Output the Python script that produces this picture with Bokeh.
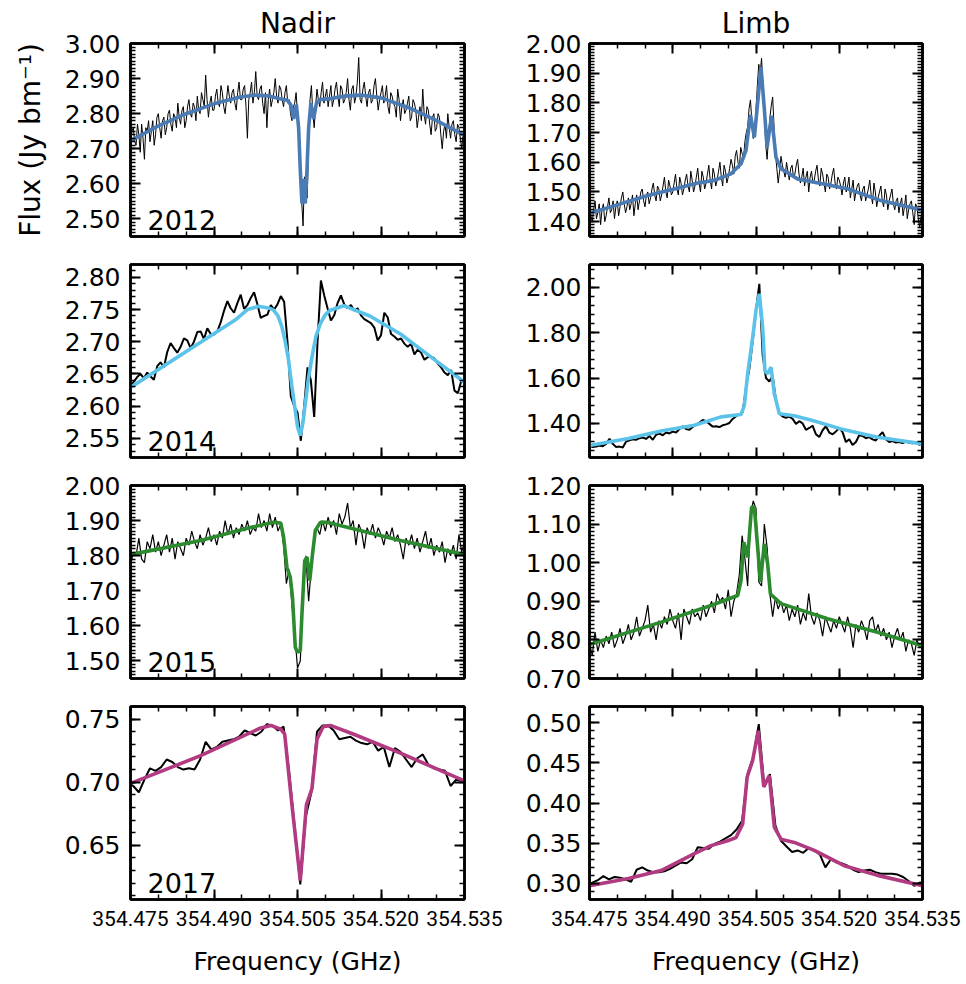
import numpy as np
from bokeh.plotting import figure
from bokeh.models import Range1d, FixedTicker, LinearAxis, PrintfTickFormatter, Label
from bokeh.layouts import column, row
from bokeh.embed import file_html
from bokeh.resources import INLINE

# ---------------- data ----------------
freq_min, freq_max = 354.475, 354.535
freq_ticks = [354.475, 354.490, 354.505, 354.520, 354.535]
years = ["2012", "2014", "2015", "2017"]
column_titles = ["Nadir", "Limb"]
year_colors = ["#4a7bb5", "#5bc3ea", "#2b8b2e", "#b23a80"]

# sampling of the observed spectra (start frequency, channel width in GHz)
data_start = [354.475, 354.475, 354.475, 354.4745]
data_step = [0.00025, 0.0006, 0.0005, 0.001]

nadir_2012_flux = [
    2.70, 2.75, 2.76, 2.72, 2.71, 2.77, 2.74, 2.69, 2.77, 2.73,
    2.67, 2.76, 2.75, 2.78, 2.72, 2.75, 2.78, 2.71, 2.74, 2.79,
    2.80, 2.76, 2.73, 2.78, 2.79, 2.74, 2.76, 2.80, 2.81, 2.77,
    2.75, 2.80, 2.79, 2.76, 2.83, 2.79, 2.77, 2.81, 2.82, 2.76,
    2.78, 2.82, 2.84, 2.80, 2.79, 2.83, 2.82, 2.78, 2.85, 2.81,
    2.80, 2.86, 2.84, 2.82, 2.91, 2.84, 2.79, 2.83, 2.85, 2.81,
    2.81, 2.85, 2.87, 2.83, 2.82, 2.88, 2.86, 2.82, 2.80, 2.84,
    2.88, 2.85, 2.83, 2.86, 2.87, 2.83, 2.81, 2.86, 2.89, 2.84,
    2.84, 2.87, 2.88, 2.82, 2.73, 2.84, 2.86, 2.89, 2.83, 2.86,
    2.92, 2.85, 2.84, 2.87, 2.88, 2.83, 2.80, 2.86, 2.76, 2.84,
    2.87, 2.82, 2.84, 2.86, 2.90, 2.85, 2.83, 2.88, 2.87, 2.84,
    2.82, 2.86, 2.88, 2.83, 2.84, 2.80, 2.78, 2.82, 2.83, 2.86,
    2.80, 2.74, 2.62, 2.55, 2.48, 2.62, 2.58, 2.56, 2.72, 2.84,
    2.88, 2.80, 2.76, 2.82, 2.87, 2.84, 2.82, 2.86, 2.89, 2.83,
    2.85, 2.87, 2.82, 2.85, 2.88, 2.82, 2.84, 2.87, 2.89, 2.85,
    2.82, 2.88, 2.87, 2.83, 2.84, 2.86, 2.90, 2.84, 2.81, 2.87,
    2.88, 2.83, 2.85, 2.89, 2.96, 2.84, 2.83, 2.87, 2.89, 2.85,
    2.82, 2.86, 2.87, 2.83, 2.84, 2.88, 2.90, 2.85, 2.81, 2.84,
    2.86, 2.88, 2.83, 2.85, 2.88, 2.82, 2.80, 2.86, 2.85, 2.83,
    2.82, 2.79, 2.87, 2.84, 2.78, 2.82, 2.84, 2.80, 2.81, 2.83,
    2.85, 2.78, 2.79, 2.84, 2.83, 2.81, 2.76, 2.79, 2.82, 2.78,
    2.87, 2.80, 2.77, 2.82, 2.81, 2.77, 2.74, 2.79, 2.80, 2.75,
    2.76, 2.80, 2.79, 2.74, 2.70, 2.75, 2.77, 2.73, 2.80, 2.76,
    2.73, 2.77, 2.78, 2.74, 2.72, 2.77, 2.76, 2.73, 2.70, 2.74,
    2.75]
limb_2012_flux = [
    1.45, 1.42, 1.40, 1.44, 1.47, 1.41, 1.43, 1.46, 1.39, 1.44,
    1.46, 1.40, 1.42, 1.45, 1.48, 1.43, 1.44, 1.47, 1.41, 1.45,
    1.47, 1.42, 1.45, 1.48, 1.50, 1.46, 1.43, 1.45, 1.48, 1.44,
    1.46, 1.49, 1.42, 1.46, 1.49, 1.44, 1.47, 1.50, 1.51, 1.47,
    1.45, 1.49, 1.50, 1.46, 1.48, 1.51, 1.53, 1.49, 1.47, 1.52,
    1.51, 1.47, 1.49, 1.52, 1.55, 1.50, 1.48, 1.54, 1.52, 1.49,
    1.50, 1.53, 1.56, 1.51, 1.49, 1.55, 1.53, 1.49, 1.51, 1.54,
    1.56, 1.52, 1.50, 1.57, 1.54, 1.50, 1.52, 1.55, 1.58, 1.53,
    1.50, 1.57, 1.55, 1.51, 1.53, 1.56, 1.59, 1.54, 1.51, 1.58,
    1.56, 1.52, 1.54, 1.57, 1.60, 1.55, 1.52, 1.59, 1.57, 1.53,
    1.55, 1.58, 1.61, 1.59, 1.56, 1.62, 1.64, 1.60, 1.58, 1.65,
    1.63, 1.61, 1.67, 1.70, 1.72, 1.78, 1.81, 1.74, 1.68, 1.70,
    1.78, 1.86, 1.93, 1.90, 1.95, 1.86, 1.76, 1.66, 1.61, 1.68,
    1.75, 1.79, 1.82, 1.72, 1.63, 1.58, 1.53, 1.57, 1.62, 1.59,
    1.57, 1.55, 1.60, 1.57, 1.54, 1.58, 1.59, 1.55, 1.56, 1.59,
    1.61, 1.56, 1.53, 1.55, 1.58, 1.52, 1.55, 1.57, 1.50, 1.55,
    1.57, 1.53, 1.54, 1.57, 1.59, 1.54, 1.52, 1.58, 1.56, 1.53,
    1.50, 1.56, 1.55, 1.51, 1.53, 1.56, 1.58, 1.53, 1.51, 1.55,
    1.54, 1.52, 1.49, 1.53, 1.55, 1.50, 1.52, 1.55, 1.48, 1.51,
    1.54, 1.47, 1.50, 1.52, 1.53, 1.49, 1.47, 1.51, 1.52, 1.47,
    1.49, 1.51, 1.54, 1.49, 1.46, 1.53, 1.50, 1.45, 1.48, 1.50,
    1.52, 1.47, 1.45, 1.51, 1.49, 1.44, 1.47, 1.49, 1.51, 1.46,
    1.44, 1.47, 1.48, 1.43, 1.46, 1.48, 1.42, 1.45, 1.49, 1.41,
    1.44, 1.46, 1.47, 1.43, 1.39, 1.46, 1.45, 1.41, 1.38, 1.42,
    1.44]
nadir_2014_flux = [
    2.630, 2.638, 2.645, 2.650, 2.643, 2.652, 2.646, 2.641, 2.662, 2.668,
    2.660, 2.684, 2.698, 2.690, 2.683, 2.692, 2.705, 2.702, 2.690, 2.700,
    2.715, 2.716, 2.704, 2.721, 2.712, 2.711, 2.716, 2.730, 2.748, 2.763,
    2.752, 2.745, 2.760, 2.773, 2.751, 2.757, 2.768, 2.777, 2.758, 2.737,
    2.740, 2.742, 2.757, 2.750, 2.758, 2.771, 2.762, 2.700, 2.615, 2.600,
    2.590, 2.546, 2.600, 2.660, 2.640, 2.583, 2.700, 2.795, 2.772, 2.752,
    2.733, 2.741, 2.760, 2.772, 2.758, 2.752, 2.757, 2.748, 2.752, 2.741,
    2.735, 2.732, 2.729, 2.722, 2.702, 2.710, 2.745, 2.738, 2.712, 2.708,
    2.703, 2.705, 2.697, 2.692, 2.697, 2.680, 2.688, 2.683, 2.672, 2.676,
    2.677, 2.674, 2.666, 2.660, 2.652, 2.648, 2.656, 2.624, 2.620, 2.638,
    2.640]
limb_2014_flux = [
    1.300, 1.296, 1.298, 1.303, 1.300, 1.310, 1.332, 1.310, 1.296, 1.298,
    1.294, 1.320, 1.326, 1.330, 1.328, 1.335, 1.338, 1.332, 1.345, 1.328,
    1.350, 1.355, 1.348, 1.360, 1.356, 1.364, 1.360, 1.375, 1.388, 1.375,
    1.372, 1.384, 1.395, 1.404, 1.415, 1.410, 1.398, 1.386, 1.388, 1.384,
    1.392, 1.396, 1.402, 1.420, 1.432, 1.440, 1.450, 1.560, 1.640, 1.760,
    1.900, 2.015, 1.700, 1.600, 1.585, 1.610, 1.500, 1.445, 1.430, 1.425,
    1.430, 1.420, 1.398, 1.410, 1.400, 1.372, 1.380, 1.390, 1.352, 1.340,
    1.370, 1.388, 1.360, 1.352, 1.365, 1.380, 1.362, 1.318, 1.330, 1.305,
    1.318, 1.348, 1.345, 1.335, 1.340, 1.330, 1.325, 1.345, 1.362, 1.330,
    1.318, 1.322, 1.316, 1.318, 1.314, 1.320, 1.315, 1.313, 1.318, 1.306,
    1.310]
nadir_2015_flux = [
    1.77, 1.81, 1.80, 1.85, 1.79, 1.78, 1.84, 1.82, 1.86, 1.81,
    1.84, 1.80, 1.83, 1.86, 1.81, 1.85, 1.79, 1.84, 1.82, 1.80,
    1.85, 1.83, 1.87, 1.84, 1.82, 1.86, 1.83, 1.85, 1.88, 1.84,
    1.86, 1.83, 1.87, 1.85, 1.90, 1.86, 1.89, 1.85, 1.88, 1.86,
    1.89, 1.87, 1.90, 1.86, 1.88, 1.87, 1.92, 1.88, 1.90, 1.87,
    1.92, 1.88, 1.91, 1.87, 1.89, 1.83, 1.72, 1.76, 1.66, 1.58,
    1.48, 1.50, 1.68, 1.80, 1.67, 1.77, 1.86, 1.88, 1.86, 1.90,
    1.87, 1.91, 1.88, 1.90, 1.86, 1.92, 1.89, 1.91, 1.95, 1.88,
    1.90, 1.83, 1.89, 1.87, 1.82, 1.88, 1.86, 1.89, 1.85, 1.88,
    1.86, 1.83, 1.87, 1.85, 1.88, 1.84, 1.86, 1.83, 1.79, 1.85,
    1.83, 1.86, 1.82, 1.85, 1.81, 1.84, 1.87, 1.82, 1.85, 1.80,
    1.83, 1.81, 1.84, 1.78, 1.82, 1.80, 1.83, 1.79, 1.86, 1.81,
    1.84]
limb_2015_flux = [
    0.79, 0.76, 0.82, 0.77, 0.80, 0.78, 0.81, 0.79, 0.82, 0.78,
    0.80, 0.83, 0.79, 0.81, 0.84, 0.80, 0.82, 0.86, 0.81, 0.83,
    0.85, 0.89, 0.82, 0.84, 0.80, 0.85, 0.83, 0.86, 0.84, 0.88,
    0.85, 0.83, 0.87, 0.80, 0.88, 0.86, 0.84, 0.88, 0.86, 0.87,
    0.85, 0.89, 0.86, 0.88, 0.90, 0.87, 0.92, 0.90, 0.91, 0.88,
    0.93, 0.86, 0.90, 0.92, 0.97, 1.07, 1.01, 0.94, 1.12, 1.16,
    1.14, 0.95, 0.94, 1.10, 1.04, 0.92, 0.86, 0.91, 0.88, 0.90,
    0.87, 0.89, 0.85, 0.88, 0.86, 0.89, 0.84, 0.87, 0.85, 0.92,
    0.86, 0.84, 0.87, 0.85, 0.81, 0.86, 0.84, 0.82, 0.85, 0.83,
    0.86, 0.84, 0.82, 0.86, 0.83, 0.78, 0.84, 0.82, 0.85, 0.83,
    0.80, 0.85, 0.86, 0.82, 0.84, 0.81, 0.83, 0.80, 0.82, 0.78,
    0.81, 0.83, 0.80, 0.82, 0.77, 0.80, 0.79, 0.76, 0.80, 0.78,
    0.80]
nadir_2017_flux = [
    0.700, 0.697, 0.692, 0.702, 0.711, 0.709, 0.712, 0.718, 0.716, 0.712,
    0.710, 0.711, 0.710, 0.718, 0.732, 0.726, 0.728, 0.732, 0.733, 0.734,
    0.736, 0.741, 0.739, 0.737, 0.740, 0.746, 0.745, 0.741, 0.744, 0.708,
    0.664, 0.619, 0.673, 0.692, 0.740, 0.745, 0.745, 0.741, 0.734, 0.735,
    0.736, 0.733, 0.731, 0.730, 0.732, 0.725, 0.728, 0.712, 0.727, 0.724,
    0.718, 0.712, 0.719, 0.722, 0.714, 0.711, 0.710, 0.709, 0.697, 0.702,
    0.701, 0.700]
limb_2017_flux = [
    0.299, 0.301, 0.304, 0.309, 0.305, 0.308, 0.307, 0.305, 0.302, 0.317,
    0.320, 0.316, 0.314, 0.314, 0.315, 0.318, 0.322, 0.326, 0.325, 0.330,
    0.345, 0.344, 0.343, 0.349, 0.352, 0.356, 0.360, 0.367, 0.378, 0.437,
    0.457, 0.498, 0.420, 0.436, 0.372, 0.353, 0.346, 0.339, 0.341, 0.338,
    0.344, 0.341, 0.336, 0.320, 0.330, 0.326, 0.325, 0.322, 0.317, 0.314,
    0.316, 0.317, 0.314, 0.312, 0.312, 0.312, 0.311, 0.308, 0.303, 0.297,
    0.301, 0.300]

# best-fit model spectra (frequency, flux)
nadir_2012_model_freq = [354.4750, 354.4800, 354.4850, 354.4900, 354.4945, 354.4975, 354.5000,
                         354.5020, 354.5032, 354.5038, 354.5043, 354.5048, 354.5052, 354.5055,
                         354.5058, 354.5061, 354.5064, 354.5067, 354.5070, 354.5074, 354.5079,
                         354.5084, 354.5090, 354.5110, 354.5135, 354.5163, 354.5200, 354.5250,
                         354.5300, 354.5350]
nadir_2012_model_flux = [2.723, 2.765, 2.800, 2.828, 2.847, 2.853, 2.850,
                         2.842, 2.838, 2.825, 2.785, 2.826, 2.760, 2.640,
                         2.544, 2.614, 2.544, 2.640, 2.760, 2.830, 2.785,
                         2.830, 2.840, 2.843, 2.850, 2.853, 2.845, 2.817,
                         2.780, 2.738]
limb_2012_model_freq = [354.4750, 354.4795, 354.4855, 354.4915, 354.4945, 354.4975, 354.5005,
                        354.5023, 354.5032, 354.5036, 354.5040, 354.5047, 354.5053, 354.5059,
                        354.5065, 354.5070, 354.5078, 354.5086, 354.5095, 354.5125, 354.5155,
                        354.5215, 354.5275, 354.5350]
limb_2012_model_flux = [1.428, 1.454, 1.488, 1.516, 1.530, 1.539, 1.561,
                        1.595, 1.640, 1.700, 1.760, 1.684, 1.800, 1.920,
                        1.780, 1.651, 1.757, 1.617, 1.578, 1.544, 1.533,
                        1.511, 1.471, 1.438]
nadir_2014_model_freq = [354.4750, 354.4876, 354.4940, 354.4960, 354.4980, 354.5000, 354.5007,
                         354.5015, 354.5022, 354.5028, 354.5034, 354.5040, 354.5046, 354.5050,
                         354.5055, 354.5060, 354.5064, 354.5070, 354.5076, 354.5083, 354.5091,
                         354.5100, 354.5109, 354.5133, 354.5180, 354.5235, 354.5290, 354.5350]
nadir_2014_model_flux = [2.629, 2.699, 2.735, 2.750, 2.755, 2.752, 2.749,
                         2.740, 2.723, 2.700, 2.671, 2.630, 2.593, 2.568,
                         2.554, 2.575, 2.604, 2.645, 2.676, 2.708, 2.728,
                         2.742, 2.749, 2.756, 2.740, 2.712, 2.676, 2.637]
limb_2014_model_freq = [354.4750, 354.4820, 354.4879, 354.4939, 354.4987, 354.5023, 354.5029,
                        354.5035, 354.5044, 354.5050, 354.5056, 354.5062, 354.5066, 354.5071,
                        354.5077, 354.5083, 354.5092, 354.5119, 354.5155, 354.5203, 354.5269,
                        354.5350]
limb_2014_model_flux = [1.303, 1.334, 1.367, 1.392, 1.429, 1.439, 1.480,
                        1.619, 1.780, 1.898, 1.971, 1.824, 1.633, 1.619,
                        1.648, 1.531, 1.443, 1.434, 1.411, 1.376, 1.339,
                        1.310]
nadir_2015_model_freq = [354.4750, 354.4876, 354.4965, 354.5007, 354.5020, 354.5025, 354.5031,
                         354.5037, 354.5041, 354.5046, 354.5050, 354.5055, 354.5058, 354.5063,
                         354.5067, 354.5072, 354.5077, 354.5082, 354.5091, 354.5103, 354.5235,
                         354.5350]
nadir_2015_model_flux = [1.803, 1.843, 1.880, 1.895, 1.893, 1.853, 1.767,
                         1.739, 1.682, 1.539, 1.525, 1.530, 1.634, 1.786,
                         1.796, 1.729, 1.805, 1.872, 1.895, 1.895, 1.843,
                         1.803]
limb_2015_model_freq = [354.4750, 354.4879, 354.4969, 354.5017, 354.5023, 354.5028, 354.5035,
                        354.5042, 354.5047, 354.5053, 354.5058, 354.5065, 354.5071, 354.5076,
                        354.5095, 354.5179, 354.5269, 354.5350]
limb_2015_model_flux = [0.788, 0.846, 0.889, 0.915, 0.954, 1.053, 1.014,
                        1.144, 1.144, 1.040, 0.950, 1.049, 0.997, 0.919,
                        0.894, 0.855, 0.820, 0.785]
nadir_2017_model_freq = [354.4750, 354.4876, 354.4984, 354.5002, 354.5020, 354.5027, 354.5040,
                         354.5055, 354.5066, 354.5076, 354.5085, 354.5096, 354.5109, 354.5151,
                         354.5235, 354.5350]
nadir_2017_model_flux = [0.699, 0.721, 0.743, 0.745, 0.742, 0.738, 0.682,
                         0.622, 0.682, 0.695, 0.734, 0.744, 0.745, 0.738,
                         0.723, 0.701]
limb_2017_model_freq = [354.4750, 354.4820, 354.4879, 354.4939, 354.4969, 354.4999, 354.5014,
                        354.5026, 354.5034, 354.5044, 354.5054, 354.5064, 354.5074, 354.5083,
                        354.5095, 354.5119, 354.5155, 354.5209, 354.5269, 354.5350]
limb_2017_model_flux = [0.297, 0.306, 0.316, 0.337, 0.347, 0.353, 0.357,
                        0.374, 0.432, 0.453, 0.490, 0.420, 0.434, 0.370,
                        0.355, 0.351, 0.341, 0.322, 0.310, 0.297]

nadir_flux = [nadir_2012_flux, nadir_2014_flux, nadir_2015_flux, nadir_2017_flux]
limb_flux = [limb_2012_flux, limb_2014_flux, limb_2015_flux, limb_2017_flux]
nadir_model = [(nadir_2012_model_freq, nadir_2012_model_flux), (nadir_2014_model_freq, nadir_2014_model_flux),
               (nadir_2015_model_freq, nadir_2015_model_flux), (nadir_2017_model_freq, nadir_2017_model_flux)]
limb_model = [(limb_2012_model_freq, limb_2012_model_flux), (limb_2014_model_freq, limb_2014_model_flux),
              (limb_2015_model_freq, limb_2015_model_flux), (limb_2017_model_freq, limb_2017_model_flux)]

# axis ranges and tick labels
nadir_yrange = [(2.45, 3.00), (2.52, 2.82), (1.45, 2.00), (0.607, 0.76)]
limb_yrange = [(1.35, 2.00), (1.25, 2.10), (0.70, 1.20), (0.28, 0.52)]
nadir_yticks = [[2.50, 2.60, 2.70, 2.80, 2.90, 3.00], [2.55, 2.60, 2.65, 2.70, 2.75, 2.80],
                [1.50, 1.60, 1.70, 1.80, 1.90, 2.00], [0.65, 0.70, 0.75]]
limb_yticks = [[1.40, 1.50, 1.60, 1.70, 1.80, 1.90, 2.00], [1.40, 1.60, 1.80, 2.00],
               [0.70, 0.80, 0.90, 1.00, 1.10, 1.20], [0.30, 0.35, 0.40, 0.45, 0.50]]
nadir_minor_step = [0.01, 0.01, 0.01, 0.01]
limb_minor_step = [0.01, 0.04, 0.01, 0.01]

# ---------------- layout constants ----------------
FRAME_W, FRAME_H = 334, 193
LABEL_FONT = "DejaVu Sans"
XTICK_FONT = "Roboto"


def minor_list(majors, step, lo, hi):
    base = majors[0]
    vals = [round(base + step * k, 4) for k in range(-40, 200)]
    return [v for v in vals if lo - 1e-9 <= v <= hi + 1e-9]


def style_axis(ax, ticker, show_labels, fmt=None, font=LABEL_FONT, size="25px", standoff=10):
    ax.ticker = ticker
    ax.axis_line_color = "black"
    ax.axis_line_width = 2.5
    ax.major_tick_line_color = "black"
    ax.major_tick_line_width = 2
    ax.minor_tick_line_color = "black"
    ax.minor_tick_line_width = 1.5
    ax.major_tick_in = 10
    ax.major_tick_out = 0
    ax.minor_tick_in = 5
    ax.minor_tick_out = 0
    if show_labels:
        ax.formatter = PrintfTickFormatter(format=fmt)
        ax.major_label_text_font = font
        ax.major_label_text_font_size = size
        ax.major_label_text_color = "black"
        ax.major_label_standoff = standoff
    else:
        ax.major_label_text_font_size = "0px"
        ax.major_label_standoff = 0


def build_panel(col, r):
    left = col == 0
    top = r == 0
    bottom = r == 3
    yr = (nadir_yrange if left else limb_yrange)[r]
    majors = (nadir_yticks if left else limb_yticks)[r]
    mstep = (nadir_minor_step if left else limb_minor_step)[r]
    flux = (nadir_flux if left else limb_flux)[r]
    mfreq, mflux = (nadir_model if left else limb_model)[r]

    bl = 130 if left else 66
    br = 58 if left else 40
    bt = 43 if top else 14
    bb = 84 if bottom else 14
    p = figure(width=bl + FRAME_W + br, height=bt + FRAME_H + bb,
               x_range=Range1d(freq_min, freq_max), y_range=Range1d(*yr),
               output_backend="svg", toolbar_location=None, tools="",
               min_border_left=bl, min_border_right=br,
               min_border_top=bt, min_border_bottom=bb)
    p.xgrid.visible = False
    p.ygrid.visible = False
    p.outline_line_color = "black"
    p.outline_line_width = 2.5
    p.background_fill_color = "white"
    p.border_fill_color = "white"
    if top:
        p.title.text = column_titles[col]
        p.title.align = "center"
        p.title.text_font = LABEL_FONT
        p.title.text_font_size = "28px"
        p.title.text_font_style = "normal"
        p.title.text_color = "black"
        p.title.standoff = 7

    freqs = np.round(data_start[r] + data_step[r] * np.arange(len(flux)), 5)
    lw = {0: 1.0, 1: 2.0, 2: 1.2, 3: 2.0}[r]
    p.line(freqs, flux, line_color="black", line_width=lw)
    p.line(mfreq, mflux, line_color=year_colors[r], line_width=3.6)

    xt = FixedTicker(ticks=freq_ticks,
                     minor_ticks=[round(freq_min + 0.005 * k, 4) for k in range(13)])
    yt = FixedTicker(ticks=majors, minor_ticks=minor_list(majors, mstep, yr[0], yr[1]))

    ax_bottom = p.xaxis[0]
    ax_left = p.yaxis[0]
    style_axis(ax_bottom, xt, bottom, "%.3f", XTICK_FONT, "21px", 11)
    style_axis(ax_left, yt, True, "%.2f", LABEL_FONT, "25px", 10 if left else 8)
    ax_top = LinearAxis()
    ax_right = LinearAxis()
    p.add_layout(ax_top, "above")
    p.add_layout(ax_right, "right")
    style_axis(ax_top, xt, False)
    style_axis(ax_right, yt, False)

    if bottom:
        ax_bottom.axis_label = "Frequency (GHz)"
        ax_bottom.axis_label_text_font = LABEL_FONT
        ax_bottom.axis_label_text_font_size = "25px"
        ax_bottom.axis_label_text_font_style = "normal"
        ax_bottom.axis_label_text_color = "black"
        ax_bottom.axis_label_standoff = 18
    if top and left:
        ax_left.axis_label = "Flux (Jy bm\u207b\u00b9)"
        ax_left.axis_label_text_font = LABEL_FONT
        ax_left.axis_label_text_font_size = "28px"
        ax_left.axis_label_text_font_style = "normal"
        ax_left.axis_label_text_color = "black"
        ax_left.axis_label_standoff = 15

    span_x = freq_max - freq_min
    span_y = yr[1] - yr[0]
    if left:
        p.add_layout(Label(x=freq_min + 17.0 / FRAME_W * span_x, y=yr[0] + 17.0 / FRAME_H * span_y,
                           text=years[r], text_font=LABEL_FONT, text_font_size="27px",
                           text_baseline="alphabetic", text_align="left", text_color="black"))
    return p


rows = [row(build_panel(0, r), build_panel(1, r)) for r in range(4)]
layout = column(*rows)

open("out.html", "w").write(file_html(layout, INLINE))
